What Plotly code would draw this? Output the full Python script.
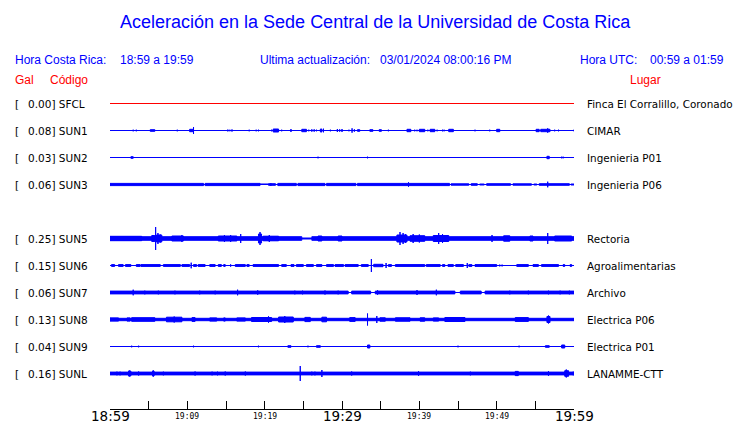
import plotly.graph_objects as go

# ---------------- data ----------------
STATIONS = ["SFCL", "SUN1", "SUN2", "SUN3", "SUN5", "SUN6", "SUN7", "SUN8", "SUN9", "SUNL"]
GAL = [0.00, 0.08, 0.03, 0.06, 0.25, 0.15, 0.06, 0.13, 0.04, 0.16]
PLACES = ["Finca El Corralillo, Coronado", "CIMAR", "Ingenieria P01", "Ingenieria P06",
          "Rectoria", "Agroalimentarias", "Archivo", "Electrica P06", "Electrica P01", "LANAMME-CTT"]
ROWS = [0, 1, 2, 3, 5, 6, 7, 8, 9, 10]   # SUN4 slot is empty

TICK_MIN = [0, 10, 20, 30, 40, 50, 60]
TICK_LABELS = ["18:59", "19:09", "19:19", "19:29", "19:39", "19:49", "19:59"]
TICK_MAJOR = [True, False, False, True, False, False, True]

# envelope pieces: (start minute, end minute, half amplitude)
SFCL_EV = []
SUN1_EV = [(0.1, 0.1, 1), (1.4, 1.4, 1), (2.6, 2.6, 1), (3.0, 3.0, 1.3), (3.4, 3.4, 1.3), (5.2, 5.8, 1.3),
           (6.1, 6.1, 1), (8.3, 8.3, 1), (8.7, 8.7, 1.3), (9.9, 9.9, 1), (10.3, 10.8, 1.7), (10.8, 10.8, 4),
           (11.9, 11.9, 1), (12.2, 12.2, 1), (13.4, 13.4, 1), (15.2, 15.2, 1.3), (15.4, 15.4, 1.3),
           (15.6, 15.9, 1), (17.8, 17.8, 1), (18.0, 18.0, 1.3), (18.9, 18.9, 1.3), (19.2, 19.2, 1.3),
           (20.3, 20.3, 1), (20.9, 20.9, 1.3), (21.1, 21.8, 2), (22.2, 22.2, 1.3), (23.4, 23.4, 2),
           (23.7, 23.7, 1), (24.3, 24.3, 1), (24.8, 25.4, 1.7), (25.7, 25.7, 1.3), (26.1, 26.1, 1.7),
           (26.4, 26.4, 1.7), (26.7, 26.7, 1.3), (27.2, 27.4, 2), (27.6, 27.6, 2.3), (28.5, 28.5, 1.3),
           (29.4, 29.4, 2), (29.7, 29.7, 1.7), (30.0, 30.0, 2), (30.6, 30.6, 1), (30.9, 30.9, 1.3),
           (31.3, 31.3, 2.7), (31.6, 31.6, 1.7), (32.0, 32.3, 1.3), (33.0, 33.0, 1), (33.6, 34.0, 1.3),
           (34.8, 35.1, 1.3), (36.0, 36.0, 1.3), (36.9, 36.9, 1), (38.4, 38.9, 1.7), (39.4, 39.4, 1.3),
           (39.7, 39.7, 1.3), (40.0, 40.7, 1.7), (41.1, 41.1, 1.3), (41.4, 42.0, 1.7), (42.3, 42.3, 1.3),
           (43.0, 43.0, 1.3), (43.2, 43.2, 1.3), (43.8, 44.4, 1.7), (47.2, 47.2, 1.3), (49.1, 49.1, 1.3),
           (50.0, 50.4, 1.7), (51.3, 51.3, 1), (52.3, 52.3, 1), (55.1, 55.5, 1.7), (55.7, 56.9, 1.7),
           (56.6, 56.6, 2.7), (57.5, 57.5, 1.3), (58.0, 58.0, 1.3), (60.0, 60.0, 1.3)]
SUN2_EV = [(2.7, 3.0, 1.3), (3.8, 3.8, 1), (26.9, 26.9, 1.3), (33.3, 33.3, 1.3), (52.9, 52.9, 1),
           (56.5, 56.8, 1.7), (58.4, 58.4, 1.3), (58.6, 58.6, 1.3)]
SUN3_EV = [(0, 12.1, 1.6), (12.3, 19.4, 1.6), (19.4, 20.5, 0.8), (20.5, 21.4, 1.3), (21.7, 24.1, 1.6),
           (24.3, 27.8, 1.6), (28.0, 31.8, 1.6), (32.0, 43.9, 1.6), (44.1, 46.4, 1.2), (46.7, 47.5, 1.3),
           (47.8, 48.4, 1.0), (48.7, 51.8, 1.3), (52.1, 54.5, 1.2), (54.8, 55.2, 1.0), (55.5, 59.4, 1.3),
           (59.6, 60, 1.0), (38.6, 38.6, 2.7), (56.6, 56.6, 3.3), (20.8, 20.8, 1.8)]
SUN5_EV = [(0, 24.8, 2.3), (24.8, 26.1, 1.0), (26.1, 60, 2.3), (0, 4.1, 2.7), (5.4, 5.8, 3.5), (5.9, 5.9, 12),
           (6.0, 6.7, 4), (6.2, 6.2, 6), (6.5, 6.5, 4.5), (8.0, 9.5, 3), (9.3, 9.3, 4), (14.0, 16.4, 3),
           (14.8, 14.8, 4), (15.6, 15.6, 4), (16.9, 16.9, 5), (19.2, 19.6, 5), (19.4, 19.4, 7), (19.8, 21.8, 2.8),
           (20.6, 20.6, 4), (26.9, 27.4, 3), (29.5, 30.0, 3), (37.1, 38.4, 4), (37.5, 37.5, 7), (37.9, 37.9, 6),
           (38.2, 38.2, 5), (38.8, 40.7, 3.3), (39.2, 39.2, 5), (40.0, 40.0, 4.5), (41.8, 43.8, 3.5),
           (42.5, 42.5, 6), (43.0, 43.0, 5), (49.4, 49.4, 4), (50.9, 51.7, 3.2), (54.3, 54.7, 3),
           (56.6, 56.6, 6), (57.5, 59.7, 3)]
SUN6_EV = [(0.2, 0.6, 1.4), (1.1, 1.7, 1.4), (2.0, 2.7, 1.4), (3.4, 3.9, 1.4), (4.0, 6.5, 1.4), (6.9, 9.1, 1.4),
           (9.3, 10.3, 1.4), (10.5, 10.5, 3.3), (10.8, 11.2, 1.4), (11.4, 12.3, 1.4), (12.9, 13.6, 1.4),
           (14.0, 14.4, 1.4), (14.7, 14.9, 1.4), (15.6, 15.6, 1.7), (16.2, 17.5, 1.4), (17.7, 18.0, 1.4),
           (18.5, 21.8, 1.4), (22.2, 22.8, 1.4), (23.4, 23.8, 1.4), (24.1, 25.0, 1.4), (25.4, 26.3, 1.4),
           (26.7, 27.4, 1.4), (28.0, 28.9, 1.4), (29.1, 30.2, 1.4), (30.4, 32.1, 1.4), (32.5, 33.4, 1.4),
           (33.8, 33.8, 7), (34.1, 35.3, 1.7), (35.7, 35.7, 3), (36.0, 36.4, 1.4), (36.9, 40.7, 1.4),
           (40.9, 42.7, 1.4), (43.0, 43.3, 1.4), (43.7, 44.4, 1.4), (44.7, 45.7, 1.4), (46.2, 46.2, 3),
           (46.4, 46.8, 1.4), (47.2, 50.0, 1.4), (50.4, 50.4, 1.4), (50.7, 50.7, 1.4), (52.6, 54.1, 1.4),
           (54.7, 55.4, 1.4), (55.8, 58.0, 1.4), (58.6, 58.8, 1.4), (59.5, 59.7, 1.4)]
SUN7_EV = [(0, 30.8, 1.9), (31.25, 33.7, 1.9), (34.3, 44.6, 1.9), (45.3, 48.0, 1.9), (48.5, 60, 1.9),
           (3.0, 3.0, 3.3), (4.5, 4.5, 2.3), (6.25, 6.25, 2.3), (8.4, 8.4, 2.3), (11.6, 11.6, 2.3),
           (13.6, 13.6, 2.3), (16.5, 16.5, 3.3), (19.1, 19.1, 2.7), (23.9, 23.9, 2.3), (24.9, 24.9, 2.3),
           (27.8, 27.8, 2.5), (29.5, 29.5, 2.3), (34.6, 34.6, 2.7), (39.7, 39.7, 3), (42.2, 42.2, 3.3),
           (51.7, 51.7, 2.3), (54.1, 54.1, 2.3), (56.7, 56.7, 2.3), (58.2, 58.2, 2.3), (59.4, 59.4, 2.3)]
SUN8_EV = [(0, 60, 1.7), (0, 1.1, 2.1), (2.2, 2.6, 2.1), (2.8, 5.8, 2.3), (7.3, 9.3, 2.8), (8.3, 8.3, 3.5),
           (10.6, 11.0, 2.4), (12.9, 13.8, 2.1), (14.7, 14.9, 2.1), (16.4, 17.5, 2.1), (18.3, 20.9, 2.5),
           (20.5, 20.5, 3.7), (21.8, 23.7, 3.0), (22.6, 22.6, 4), (25.2, 25.9, 2.6), (27.4, 28.0, 2.8),
           (31.0, 31.7, 2.4), (33.3, 33.3, 6.5), (34.5, 34.5, 4), (34.9, 35.6, 2.2), (36.9, 38.8, 2.2),
           (40.1, 40.7, 2.2), (41.8, 42.5, 2.1), (43.3, 45.9, 2.5), (52.4, 54.1, 2.4), (56.5, 56.9, 3.5),
           (56.7, 56.7, 4.5)]
SUN9_EV = [(0.9, 0.9, 1), (2.8, 2.8, 1.3), (3.7, 3.7, 1.3), (4.4, 4.4, 1), (6.9, 6.9, 1), (8.8, 8.8, 1),
           (10.8, 10.8, 1.3), (15.4, 15.4, 1), (16.8, 16.8, 1), (17.8, 17.8, 1), (19.2, 19.2, 1.3),
           (23.0, 23.4, 1.3), (25.6, 25.6, 1.3), (26.7, 27.2, 1.3), (33.3, 33.6, 2), (34.6, 34.6, 1),
           (36.6, 36.6, 1), (40.1, 40.1, 1), (42.3, 42.3, 1), (45.0, 45.0, 1.3), (52.9, 52.9, 1.3),
           (53.4, 53.4, 1), (56.3, 56.8, 1.3), (58.4, 58.8, 2)]
SUNL_EV = [(0, 60, 1.9), (0.9, 0.9, 2.3), (1.3, 1.3, 2.3), (2.4, 2.7, 3.0), (2.5, 2.5, 3.5), (3.7, 3.7, 2.5),
           (5.5, 5.7, 3.0), (5.6, 5.6, 3.5), (6.9, 6.9, 2.3), (11.0, 11.0, 2.5), (13.2, 13.2, 2.3),
           (13.9, 13.9, 2.3), (14.9, 14.9, 2.5), (17.5, 17.5, 2.5), (24.6, 24.6, 8), (26.1, 26.1, 2.3),
           (26.5, 26.5, 2.3), (27.4, 27.4, 4), (31.25, 31.25, 2.5), (39.9, 39.9, 2.8), (46.6, 46.6, 2.3),
           (52.4, 52.8, 2.6), (56.7, 56.7, 2.8), (58.8, 59.3, 3.3), (59.0, 59.0, 4.5), (59.9, 59.9, 2.3)]
EVENTS = [SFCL_EV, SUN1_EV, SUN2_EV, SUN3_EV, SUN5_EV, SUN6_EV, SUN7_EV, SUN8_EV, SUN9_EV, SUNL_EV]

# ---------------- styling ----------------
BLUE = "#0000ff"
RED = "#ff0000"
GAIN = 1 / 27.0   # amplitude unit -> row unit
OUTLINE = 0.5     # half of the 1px outline already adds to the visible amplitude
LBL_FONT = "DejaVu Sans"
HDR_FONT = "Liberation Sans, Arial, sans-serif"

fig = go.Figure()

for st, row, ev in zip(STATIONS, ROWS, EVENTS):
    color = RED if st == "SFCL" else BLUE
    fig.add_trace(go.Scatter(x=[0, 60], y=[row, row], mode="lines",
                             line=dict(color=color, width=1), hoverinfo="skip", showlegend=False))
    if ev:
        xs, ys = [], []
        for t0, t1, a in ev:
            d = max(a - OUTLINE, 0.0) * GAIN
            xs += [t0, t1, t1, t0, t0, None]
            ys += [row - d, row - d, row + d, row + d, row - d, None]
        fig.add_trace(go.Scatter(x=xs, y=ys, mode="lines", fill="toself", fillcolor=color,
                                 line=dict(color=color, width=1), hoverinfo="skip",
                                 showlegend=False, connectgaps=False))

ML, MR, MT, MB, W, H = 110, 166, 90, 14, 740, 423
PW, PH = W - ML - MR, H - MT - MB

ann = []
ann.append(dict(text="Aceleración en la Sede Central de la Universidad de Costa Rica", x=375, y=22,
                xanchor="center", font=dict(size=18, color=BLUE, family=HDR_FONT)))
hdr = [("Hora Costa Rica:", 13, 60, BLUE), ("18:59 a 19:59", 118, 60, BLUE),
       ("Ultima actualización:", 258, 60, BLUE), ("03/01/2024 08:00:16 PM", 378, 60, BLUE),
       ("Hora UTC:", 578, 60, BLUE), ("00:59 a 01:59", 648, 60, BLUE),
       ("Gal", 13, 80, RED), ("Código", 48, 80, RED), ("Lugar", 628, 80, RED)]
for t, x, y, c in hdr:
    ann.append(dict(text=t, x=x, y=y, xanchor="left", font=dict(size=12, color=c, family=HDR_FONT)))
for a in ann:
    a.update(xref="paper", yref="paper", showarrow=False, yanchor="middle")
    a["x"] = (a["x"] - ML) / PW
    a["y"] = (H - MB - a["y"]) / PH

# station labels (y in data coords)
for st, g, pl, row in zip(STATIONS, GAL, PLACES, ROWS):
    ann.append(dict(text="[", x=(13 - ML) / PW, xref="paper", y=row, yref="y", xanchor="left",
                    yanchor="middle", showarrow=False, font=dict(size=10.5, color="black", family=LBL_FONT)))
    ann.append(dict(text=f"{g:.2f}] {st}", x=(26 - ML) / PW, xref="paper", y=row, yref="y",
                    xanchor="left", yanchor="middle", showarrow=False,
                    font=dict(size=10.5, color="black", family=LBL_FONT)))
    ann.append(dict(text=pl, x=(585 - ML) / PW, xref="paper", y=row, yref="y", xanchor="left",
                    yanchor="middle", showarrow=False, font=dict(size=10.4, color="black", family=LBL_FONT)))

# time tick labels
for t, lab, major in zip(TICK_MIN, TICK_LABELS, TICK_MAJOR):
    if major:
        f = dict(size=13.5, color="black", family="DejaVu Sans")
    else:
        f = dict(size=8, color="black", family="DejaVu Sans Mono")
    ann.append(dict(text=lab, x=t, xref="x", y=(H - MB - 416) / PH, yref="paper",
                    xanchor="center", yanchor="middle", showarrow=False, font=f))

fig.update_layout(
    width=W, height=H, margin=dict(l=ML, r=MR, t=MT, b=MB, pad=0),
    paper_bgcolor="white", plot_bgcolor="white",
    xaxis=dict(range=[0, 60], showgrid=False, zeroline=False, showline=True, linecolor="black",
               linewidth=1, ticks="inside", ticklen=8, tickcolor="black", tickwidth=1,
               tickvals=list(range(0, 61, 5)), showticklabels=False, fixedrange=True),
    yaxis=dict(range=[(409 - 103.5) / 27.0, (90 - 103.5) / 27.0], visible=False, fixedrange=True),
    annotations=ann,
)

fig.write_html("out.html", config={"displayModeBar": False},
               post_script="document.body.style.margin='0';document.body.style.overflow='hidden';")
